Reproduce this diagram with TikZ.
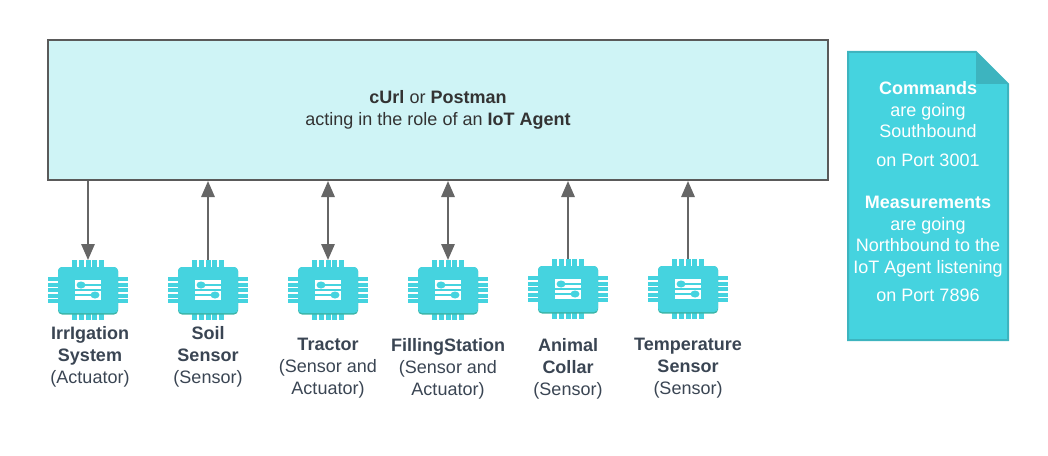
\documentclass[tikz,border=0pt]{standalone}
\usepackage{fontspec}
\setmainfont{Liberation Sans}
\usetikzlibrary{positioning, arrows.meta}
\definecolor{chipteal}{HTML}{45D3DF}
\definecolor{chipedge}{HTML}{3AB5A8}
\definecolor{hubfill}{HTML}{CFF4F6}
\definecolor{hubline}{HTML}{5A5A5A}
\definecolor{linkgrey}{HTML}{666666}
\definecolor{labelgrey}{HTML}{3A4553}
\definecolor{noteedge}{HTML}{3DB4BF}
\tikzset{
	chip/.style={minimum width=60pt, minimum height=45pt, inner sep=0pt, outer sep=0pt},
	chiplabel/.style={align=center, text=labelgrey, font=\fontsize{13.5}{16.5}\selectfont, below=1.3pt of #1.south, anchor=north},
	notetext/.style={align=center, text=white, font=\fontsize{13.5}{16.2}\selectfont},
	link/.style={draw=linkgrey, line width=1.5pt, {Triangle[length=12pt,width=10pt]}-{Triangle[length=12pt,width=10pt]}},
	linkdown/.style={draw=linkgrey, line width=1.5pt, -{Triangle[length=12pt,width=10pt]}},
	linkup/.style={draw=linkgrey, line width=1.5pt, {Triangle[length=12pt,width=10pt]}-},
	pics/chipicon/.style={code={
		\foreach \p in {-13.2,-6.6,0,6.6,13.2} {
			\fill[chipteal] (\p-2.5,-30) rectangle (\p+2.5,30);
		}
		\foreach \p in {-11,-5.5,0,5.5,11} {
			\fill[chipteal] (-40,\p-2) rectangle (40,\p+2);
		}
		\fill[chipedge, rounded corners=3pt] (-30,-23) rectangle (30,24.5);
		\fill[chipteal, rounded corners=3pt] (-30,-23) rectangle (30,23);
		\fill[white] (-13,-10) rectangle (13,10);
		\fill[chipteal] (-13,-1) rectangle (13,1);
		\draw[chipteal, line width=1.2pt] (-7,-5) -- (13,-5);
		\draw[chipteal, line width=1.2pt] (-13,5) -- (7,5);
		\fill[chipteal] (-7,-5) ellipse (4.5 and 3.5);
		\fill[chipteal] (7,5) ellipse (4.5 and 3.5);
	}}
}
\begin{document}
\begin{tikzpicture}[x=0.75pt, y=-0.75pt]
	\useasboundingbox (0,0) rectangle (1048,456);

	\node[draw=hubline, fill=hubfill, line width=1.5pt, minimum width=585pt, minimum height=105pt, align=center, text=black!80, font=\fontsize{13.5}{16.5}\selectfont] (hub) at (438,110) {\textbf{cUrl} or \textbf{Postman}\\acting in the role of an \textbf{IoT Agent}};

	\node[chip] (irrigation) at (88,290) {};
	\node[chip, right=30pt of irrigation] (soil) {};
	\node[chip, right=30pt of soil] (tractor) {};
	\node[chip, right=30pt of tractor] (filling) {};
	\node[chip, right=30pt of filling, yshift=0.75pt] (animal) {};
	\node[chip, right=30pt of animal] (temperature) {};

	\pic at (irrigation) {chipicon};
	\pic at (soil) {chipicon};
	\pic at (tractor) {chipicon};
	\pic at (filling) {chipicon};
	\pic at (animal) {chipicon};
	\pic at (temperature) {chipicon};

	\draw[linkdown] (hub.south -| irrigation.north) -- (irrigation.north);
	\draw[linkup] (hub.south -| soil.north) -- (soil.north);
	\draw[link] (hub.south -| tractor.north) -- (tractor.north);
	\draw[link] (hub.south -| filling.north) -- (filling.north);
	\draw[linkup] (hub.south -| animal.north) -- (animal.north);
	\draw[linkup] (hub.south -| temperature.north) -- (temperature.north);

	\node[chiplabel=irrigation, xshift=1.5pt] (irrigationlabel) {\textbf{IrrIgation}\\\textbf{System}\\(Actuator)};
	\node[chiplabel=soil] (soillabel) {\textbf{Soil}\\\textbf{Sensor}\\(Sensor)};
	\node[chiplabel=tractor, yshift=-8.75pt] (tractorlabel) {\textbf{Tractor}\\(Sensor and\\Actuator)};
	\node[chiplabel=filling, yshift=-8.75pt] (fillinglabel) {\textbf{FillingStation}\\(Sensor and\\Actuator)};
	\node[chiplabel=animal, yshift=-9.5pt] (animallabel) {\textbf{Animal}\\\textbf{Collar}\\(Sensor)};
	\node[chiplabel=temperature, yshift=-9.5pt] (temperaturelabel) {\textbf{Temperature}\\\textbf{Sensor}\\(Sensor)};

	\draw[draw=noteedge, fill=chipteal, line width=1.5pt] (848,52) -- (976,52) -- (1008,84) -- (1008,340) -- (848,340) -- cycle;
	\fill[noteedge] (976,52) -- (1008,84) -- (976,84) -- cycle;

	\node[notetext] (commands) at (928,124) {\textbf{Commands}\\are going\\Southbound\\[5pt]on Port 3001};
	\node[notetext] (measurements) at (928,249) {\textbf{Measurements}\\are going\\Northbound to the\\IoT Agent listening\\[5pt]on Port 7896};
\end{tikzpicture}
\end{document}
